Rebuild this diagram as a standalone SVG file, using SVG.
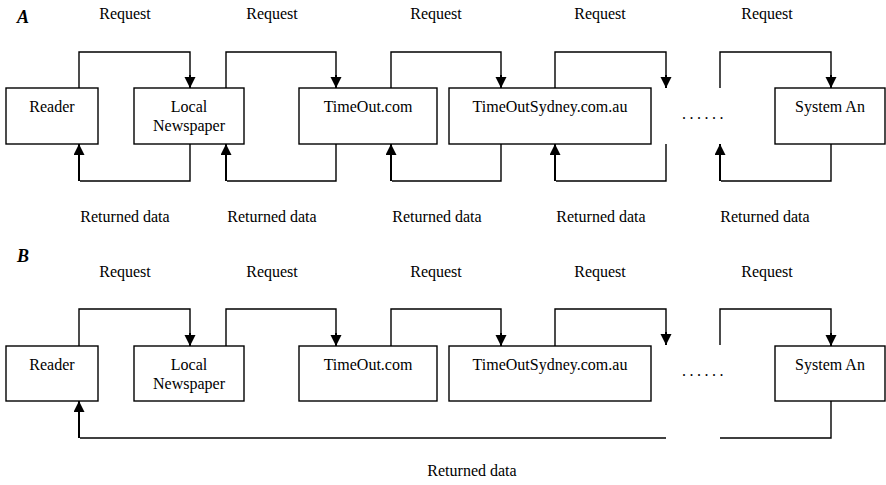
<svg xmlns="http://www.w3.org/2000/svg" width="886" height="485" viewBox="0 0 886 485">
<style>
text{font-family:"Liberation Serif","Times New Roman",serif;font-size:16px;fill:#000}
.c{text-anchor:middle}
.h{font-weight:bold;font-style:italic;font-size:18px}
.dots{letter-spacing:3.5px}
rect{fill:#fff;stroke:#000;stroke-width:1.4}
.con path{fill:none;stroke:#000;stroke-width:1.4}
.con path.a{stroke-width:2;marker-end:url(#ah)}
</style>
<defs>
<marker id="ah" markerUnits="userSpaceOnUse" markerWidth="12" markerHeight="12" refX="11" refY="5.5" orient="auto">
<path d="M0,0 L11,5.5 L0,11 z" fill="#000"/>
</marker>
</defs>
<rect x="0" y="0" width="886" height="485" style="stroke:none"/>
<text class="h" x="17" y="23">A</text>
<text class="h" x="17" y="262">B</text>
<g id="labelsA">
<text class="c" x="125" y="19">Request</text>
<text class="c" x="272" y="19">Request</text>
<text class="c" x="436" y="19">Request</text>
<text class="c" x="600" y="19">Request</text>
<text class="c" x="767" y="19">Request</text>
<text class="c" x="125" y="222">Returned data</text>
<text class="c" x="272" y="222">Returned data</text>
<text class="c" x="437" y="222">Returned data</text>
<text class="c" x="601" y="222">Returned data</text>
<text class="c" x="765" y="222">Returned data</text>
<text class="dots" x="682" y="119">......</text>
</g>
<g id="labelsB">
<text class="c" x="125" y="277">Request</text>
<text class="c" x="272" y="277">Request</text>
<text class="c" x="436" y="277">Request</text>
<text class="c" x="600" y="277">Request</text>
<text class="c" x="767" y="277">Request</text>
<text class="c" x="472" y="476">Returned data</text>
<text class="dots" x="682" y="376">......</text>
</g>
<g id="A-reader"><rect x="6" y="88" width="92" height="56"/><text class="c" x="52" y="112">Reader</text></g>
<g id="A-local"><rect x="134" y="88" width="110" height="56"/><text class="c" x="189" y="112">Local</text><text class="c" x="189" y="131">Newspaper</text></g>
<g id="A-timeout"><rect x="299" y="88" width="138" height="56"/><text class="c" x="368" y="112">TimeOut.com</text></g>
<g id="A-sydney"><rect x="449" y="88" width="202" height="56"/><text class="c" x="550" y="112">TimeOutSydney.com.au</text></g>
<g id="A-systeman"><rect x="775" y="88" width="110" height="56"/><text class="c" x="830" y="112">System An</text></g>
<g id="B-reader"><rect x="6" y="346" width="92" height="55"/><text class="c" x="52" y="370">Reader</text></g>
<g id="B-local"><rect x="134" y="346" width="110" height="55"/><text class="c" x="189" y="370">Local</text><text class="c" x="189" y="389">Newspaper</text></g>
<g id="B-timeout"><rect x="299" y="346" width="138" height="55"/><text class="c" x="368" y="370">TimeOut.com</text></g>
<g id="B-sydney"><rect x="449" y="346" width="202" height="55"/><text class="c" x="550" y="370">TimeOutSydney.com.au</text></g>
<g id="B-systeman"><rect x="775" y="346" width="110" height="55"/><text class="c" x="830" y="370">System An</text></g>
<g id="connectors" class="con">
<path d="M79,88 V52 H190 V76"/><path class="a" d="M190,75 V88"/>
<path d="M226,88 V52 H336 V76"/><path class="a" d="M336,75 V88"/>
<path d="M391,88 V52 H501 V76"/><path class="a" d="M501,75 V88"/>
<path d="M555,88 V52 H666 V76"/><path class="a" d="M666,75 V88"/>
<path d="M720,88 V52 H831 V76"/><path class="a" d="M831,75 V88"/>
<path d="M190,144 V181 H80"/><path class="a" d="M79,181 V144"/>
<path d="M336,144 V181 H227"/><path class="a" d="M226,181 V144"/>
<path d="M501,144 V181 H392"/><path class="a" d="M391,181 V144"/>
<path d="M666,144 V181 H556"/><path class="a" d="M555,181 V144"/>
<path d="M831,144 V181 H721"/><path class="a" d="M720,181 V144"/>
<path d="M79,346 V309 H190 V334"/><path class="a" d="M190,333 V346"/>
<path d="M226,346 V309 H336 V334"/><path class="a" d="M336,333 V346"/>
<path d="M391,346 V309 H501 V334"/><path class="a" d="M501,333 V346"/>
<path d="M555,346 V309 H666 V333"/><path class="a" d="M666,332 V345"/>
<path d="M720,345 V309 H831 V334"/><path class="a" d="M831,333 V346"/>
<path d="M666,438 H80"/><path class="a" d="M79,438 V401"/>
<path d="M720,438 H831 V401"/>
</g>
</svg>
